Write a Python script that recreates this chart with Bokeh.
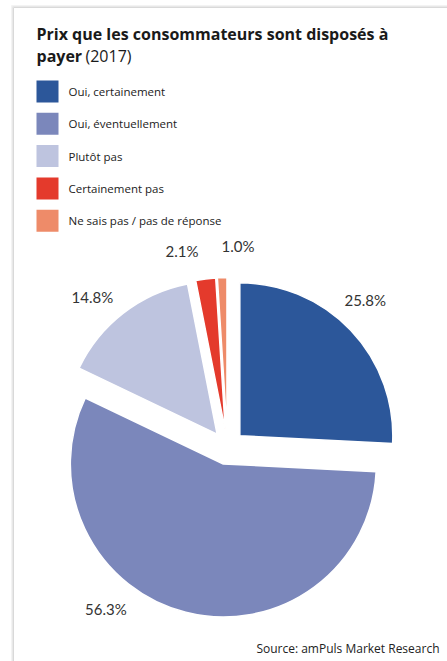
import math
from bokeh.plotting import figure
from bokeh.models import Range1d, ColumnDataSource
from bokeh.core.properties import value
from bokeh.embed import file_html
from bokeh.resources import INLINE

# ---------------- data ----------------
categories = ["Oui, certainement", "Oui, éventuellement", "Plutôt pas",
              "Certainement pas", "Ne sais pas / pas de réponse"]
shares = [25.8, 56.3, 14.8, 2.1, 1.0]
labels = ["25.8%", "56.3%", "14.8%", "2.1%", "1.0%"]
colors = ["#2c579a", "#7b87bb", "#bec4df", "#e43a2c", "#ee8b69"]
title_line1 = "Prix que les consommateurs sont disposés à"
title_line2_bold = "payer"
title_line2_normal = "(2017)"
source_text = "Source: amPuls Market Research"

# ---------------- layout ----------------
W, H = 447, 661
FONT = value("Open Sans")
LFONT = value("Lato")
CX, CY = 227, 447        # pie centre (page px, y down)
R = 153
EXPLODE = 17
LABEL_R = 202
LABEL_ANGLE_DEG = [43, 217, 318, 347, 3]   # label directions, clockwise from top


def Y(y):  # page y (down) -> data y (up)
    return H - y


p = figure(width=W, height=H, output_backend="svg", toolbar_location=None,
           x_range=Range1d(0, W), y_range=Range1d(0, H),
           min_border=0)
p.axis.visible = False
p.grid.visible = False
p.outline_line_color = None
p.background_fill_color = "white"
p.border_fill_color = "white"

# card frame / shadow
for off, col in [(0, "#d9d9d9"), (-1, "#e8e8e8"), (-2, "#f3f3f3")]:
    p.segment(x0=[13 + off], y0=[Y(7 + off)], x1=[13 + off], y1=[Y(661)],
              line_color=col, line_width=1)
    p.segment(x0=[13 + off], y0=[Y(7 + off)], x1=[447], y1=[Y(7 + off)],
              line_color=col, line_width=1)

# title
p.text(x=[36], y=[Y(33)], text=[title_line1], text_font=FONT,
       text_font_style="bold", text_font_size="16px", text_color="#1a1a1a",
       text_baseline="alphabetic")
p.text(x=[36], y=[Y(55)], text=[title_line2_bold], text_font=FONT,
       text_font_style="bold", text_font_size="16px", text_color="#1a1a1a",
       text_baseline="alphabetic")
p.text(x=[85], y=[Y(55)], text=[title_line2_normal], text_font=FONT,
       text_font_size="16px", text_color="#1a1a1a", text_baseline="alphabetic")

# legend
row_top = [80 + i * 32.3 for i in range(len(categories))]
p.rect(x=[47] * len(categories), y=[Y(t + 11) for t in row_top],
       width=22, height=22, fill_color=colors, line_color=None)
p.text(x=[68] * len(categories), y=[Y(t + 11) for t in row_top], text=categories,
       text_font=FONT, text_font_size="11.5px", text_color="#222222",
       text_baseline="middle")

# pie
total = sum(shares)
cum = 0.0
xs, ys, starts, ends = [], [], [], []
lx, ly = [], []
for s, la in zip(shares, LABEL_ANGLE_DEG):
    a0 = cum / total * 2 * math.pi
    cum += s
    a1 = cum / total * 2 * math.pi
    mid = (a0 + a1) / 2
    xs.append(CX + EXPLODE * math.sin(mid))
    ys.append(Y(CY) + EXPLODE * math.cos(mid))
    starts.append(math.pi / 2 - a0)
    ends.append(math.pi / 2 - a1)
    lr = math.radians(la)
    lx.append(CX + LABEL_R * math.sin(lr))
    ly.append(Y(CY) + LABEL_R * math.cos(lr))

src = ColumnDataSource(dict(x=xs, y=ys, start=starts, end=ends, color=colors))
p.wedge(x="x", y="y", radius=R, start_angle="start", end_angle="end",
        direction="clock", fill_color="color", line_color="white",
        line_width=1.5, source=src)

p.text(x=lx, y=ly, text=labels, text_font=LFONT, text_font_size="15px",
       text_color="#333333", text_align="center", text_baseline="middle")

# source
p.text(x=[439], y=[Y(648)], text=[source_text], text_font=FONT,
       text_font_size="12px", text_color="#222222", text_align="right",
       text_baseline="alphabetic")

open("out.html", "w").write(file_html(p, INLINE))
